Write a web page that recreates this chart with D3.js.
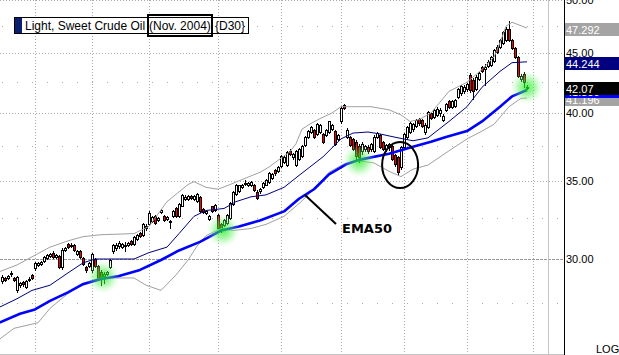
<!DOCTYPE html>
<html><head><meta charset="utf-8">
<script src="https://cdn.jsdelivr.net/npm/d3@7"></script>
<style>html,body{margin:0;padding:0;background:#fff;overflow:hidden}svg{display:block}</style>
</head><body><svg id="c" width="619" height="355"></svg>
<script>
// ---- Daily OHLC bars (index 0 = first visible bar) ----
const open = [28.72,28.90,28.90,29.13,28.90,28.20,28.49,28.67,28.38,28.78,
29.07,29.48,29.65,29.71,29.88,30.06,30.19,30.38,30.13,30.19,
29.54,30.51,30.90,30.77,30.83,30.32,30.45,30.06,29.54,29.59,
29.36,30.00,29.59,29.25,29.01,29.13,29.54,30.45,30.64,30.77,
30.71,30.80,30.83,31.09,30.90,31.22,31.60,31.47,31.86,32.12,
32.31,32.63,32.37,32.88,32.63,32.44,32.24,32.63,33.14,32.63,
33.33,33.78,33.78,33.97,33.78,33.65,33.91,33.08,32.82,32.44,
33.27,33.01,32.69,32.12,32.05,32.18,32.50,33.46,34.10,34.29,
34.55,34.81,34.68,34.68,34.74,34.23,34.29,34.55,34.74,34.94,
35.22,35.74,35.66,36.03,36.32,36.10,37.13,36.69,36.10,36.54,
36.76,37.57,38.16,38.53,38.68,38.38,38.53,38.38,38.31,38.53,
38.75,38.60,38.01,39.34,40.67,38.16,38.16,38.01,37.79,37.50,
37.13,37.28,37.43,37.28,37.13,38.16,38.31,37.79,37.28,37.43,
37.50,36.84,36.69,35.96,37.43,38.16,38.53,38.75,38.97,39.56,
39.48,38.53,38.90,40.00,39.71,39.85,40.00,39.48,40.25,40.92,
40.50,40.58,41.25,41.58,41.75,41.92,43.08,42.67,41.92,42.75,
43.83,43.58,43.92,44.00,44.33,45.57,45.57,45.94,46.23,47.17,
46.23,45.47,44.67,42.75,43.17,42.00];
const high = [29.07,28.96,29.07,29.30,28.96,29.01,28.67,28.72,28.78,28.96,
29.13,29.83,29.83,29.88,30.19,30.32,30.38,30.45,30.32,30.26,
30.64,30.71,30.96,30.96,30.90,30.51,30.51,30.13,29.59,29.83,
30.38,30.06,29.65,29.36,29.25,29.30,30.00,30.90,30.96,31.09,
30.96,31.03,31.03,31.15,31.41,31.54,31.67,32.18,32.12,32.95,
32.63,32.69,32.56,33.08,32.69,32.63,32.37,33.01,33.21,33.53,
34.10,34.04,34.04,34.04,34.04,34.17,33.97,33.14,33.01,32.69,
33.33,33.46,32.76,32.18,32.44,32.76,33.59,34.29,34.81,34.74,
34.81,35.07,34.94,35.00,34.81,34.36,34.49,34.94,35.15,35.59,
35.51,35.81,36.03,36.84,36.76,37.13,37.28,36.98,37.21,37.35,
37.57,38.23,38.68,38.97,38.75,39.19,39.12,38.45,38.75,39.41,
39.12,38.68,38.38,40.58,40.75,38.82,38.23,38.09,37.94,37.65,
37.79,37.57,37.57,37.72,38.31,38.53,38.38,37.87,37.65,37.72,
37.57,36.91,36.76,37.50,38.45,38.97,39.26,39.19,39.56,39.63,
39.56,39.19,40.17,40.08,40.33,40.50,40.42,39.93,40.83,41.00,
41.00,41.08,42.00,42.25,42.25,42.42,43.25,42.83,43.08,43.33,
43.92,44.08,44.42,44.75,45.38,45.75,46.32,46.98,47.36,47.92,
46.32,45.57,44.75,43.17,43.33,42.25];
const low = [28.61,28.72,28.84,29.01,28.72,28.09,28.38,28.43,28.32,28.72,
28.84,29.36,29.59,29.65,29.83,30.00,30.13,30.06,30.06,29.48,
29.42,30.45,30.64,30.71,30.45,30.26,30.06,29.65,29.25,29.54,
29.25,29.54,28.78,28.49,28.61,29.07,29.48,30.38,30.51,30.64,
30.64,30.45,30.77,30.83,30.83,31.15,31.35,31.41,31.79,32.05,
32.24,32.12,32.31,32.82,32.31,32.37,31.86,32.56,32.56,32.56,
33.27,33.72,33.72,33.78,33.72,33.59,32.88,32.82,32.76,32.37,
32.88,32.95,31.86,31.67,31.99,32.12,32.44,33.40,34.04,34.23,
34.49,34.68,34.62,34.62,34.29,33.78,34.17,34.49,34.68,34.87,
35.15,35.37,35.59,35.96,36.25,36.03,36.84,36.54,36.03,36.47,
36.69,37.50,38.09,38.45,38.09,38.31,38.45,37.72,38.23,38.45,
38.68,37.57,37.94,39.19,40.33,38.09,37.50,37.21,36.54,36.32,
36.91,37.13,36.98,37.13,37.06,38.09,37.35,37.21,37.13,37.21,
36.47,36.03,35.37,35.81,37.28,38.01,38.45,38.60,38.90,39.04,
38.90,38.38,38.82,39.56,39.63,39.78,39.78,39.41,40.17,40.42,
40.42,40.50,41.17,41.42,41.58,41.75,41.67,41.08,41.83,42.67,
43.33,42.25,43.83,43.92,44.25,45.00,45.47,45.85,46.13,46.13,
45.38,44.58,42.92,42.58,42.08,41.92];
const close = [28.96,28.78,29.01,29.16,28.78,28.96,28.61,28.55,28.72,28.84,
28.90,29.77,29.77,29.83,30.13,30.26,30.32,30.13,30.26,29.54,
30.51,30.64,30.71,30.83,30.51,30.45,30.13,29.71,29.36,29.77,
30.32,29.59,28.90,28.96,29.13,29.25,29.94,30.83,30.83,30.96,
30.90,30.83,30.96,30.90,31.35,31.47,31.41,32.12,31.99,32.82,
32.56,32.18,32.50,33.01,32.37,32.56,32.31,32.95,32.63,33.46,
34.04,33.91,33.97,33.85,33.97,34.10,32.95,32.88,32.95,32.63,
32.95,33.40,31.92,31.86,32.37,32.69,33.53,34.23,34.74,34.68,
34.74,34.87,34.87,34.94,34.36,33.85,34.42,34.87,35.07,35.51,
35.44,35.51,35.96,36.76,36.69,37.06,36.91,36.91,37.13,37.28,
37.50,38.16,38.60,38.90,38.16,39.12,39.04,37.79,38.68,39.34,
39.04,37.65,38.31,40.42,40.42,38.68,37.57,37.28,36.76,36.69,
37.65,37.50,37.13,37.65,38.16,38.45,37.43,37.28,37.57,37.65,
36.54,36.18,35.59,37.43,38.38,38.90,39.19,39.12,39.48,39.19,
38.97,39.04,40.08,39.63,40.25,40.33,40.25,39.78,40.75,40.50,
40.92,41.00,41.92,42.17,42.08,42.33,41.83,41.75,42.92,43.25,
43.42,43.83,44.25,44.67,45.28,45.09,46.23,46.89,47.17,46.23,
45.47,44.67,43.00,43.00,42.50,42.07];

// ---- Studies, read at bar positions ----
const emaIdx = [-1,6,11,16,22,27,33,39,46,53,59,66,73,79,86,94,99,104,109,115,119,129,137,143,148,155,160,166,170,175];
const emaVal = [26.46,26.93,27.16,27.62,28.09,28.55,28.84,29.01,29.36,29.94,30.51,31.03,31.73,31.99,32.37,32.95,33.78,34.42,35.44,36.18,36.47,36.91,37.43,37.79,38.16,38.60,39.34,40.50,41.33,41.85];
const upperIdx = [-1,5,10,16,22,27,33,44,49,55,62,64,68,72,76,79,86,89,94,96,98,100,103,106,110,113,116,123,129,133,136,139,143,149,155,160,164,166,168,170,175];
const upperVal = [29.25,29.65,30.13,30.71,31.09,31.35,31.47,31.54,31.99,33.59,34.74,34.94,34.55,34.42,34.74,35.00,35.59,35.96,36.76,37.06,37.65,38.75,39.19,39.56,40.00,40.50,40.50,40.50,40.25,39.85,39.34,39.48,40.00,41.75,42.50,43.58,44.67,45.94,47.45,47.83,47.292];
const lowerIdx = [-1,4,12,16,22,27,33,44,48,53,58,62,65,68,73,77,83,88,94,99,104,109,114,119,124,129,133,137,142,149,155,160,164,169,173,175];
const lowerVal = [25.59,26.17,26.46,27.22,28.03,28.61,28.90,28.90,28.49,28.20,29.07,29.94,30.77,31.41,31.86,31.73,31.86,32.12,32.63,33.46,34.42,35.59,36.18,36.40,36.25,35.66,35.29,35.81,36.10,37.13,38.01,38.60,39.12,40.50,41.17,41.196];
const smaIdx = [-1,5,10,16,22,27,31,44,49,55,59,64,68,74,78,83,88,94,99,107,113,117,122,126,132,137,142,149,155,160,166,170,175];
const smaVal = [27.27,27.74,28.20,28.49,29.19,29.77,30.00,30.00,30.38,30.71,31.54,32.63,33.01,33.14,33.59,33.91,34.04,34.55,35.37,36.69,38.01,38.45,38.53,38.38,38.09,37.87,38.09,39.34,40.50,42.08,43.42,44.17,44.244];

// ---- Axis / grid ----
const majorTicks = [30, 35, 40, 45, 50];
const minorTicks = [27.5, 32.5, 37.5, 42.5, 47.5];
const monthStarts = [11, 30, 49, 72, 93, 113, 134, 155, 177];
const glowIdx = [33.7, 73.7, 119, 175];
const glowVal = [28.96, 31.73, 36.40, 42.08];
const circleIdx = 132.7, circleVal = 36.10;
const noteIdx = 101;

const svg = d3.select('#c');
const x = d3.scaleLinear().domain([0, 175]).range([2, 527]);
const y = d3.scaleLog().domain([30, 40]).range([259, 113]);
const W = 564, H = 355;
const px = v => Math.round(v) + 0.5;

const defs = svg.append('defs');
const rg = defs.append('radialGradient').attr('id', 'glow');
rg.append('stop').attr('offset', '0%').attr('stop-color', '#11ee11').attr('stop-opacity', 0.75);
rg.append('stop').attr('offset', '50%').attr('stop-color', '#55f055').attr('stop-opacity', 0.45);
rg.append('stop').attr('offset', '100%').attr('stop-color', '#bbffbb').attr('stop-opacity', 0);

const grid = svg.append('g');
grid.selectAll('.mj').data(majorTicks).join('line')
  .attr('x1', 0).attr('x2', W).attr('y1', d => px(y(d))).attr('y2', d => px(y(d)))
  .attr('stroke', d => d === 30 ? '#999' : '#aaa')
  .attr('stroke-dasharray', d => d === 30 ? '3,1' : '1,2');
grid.selectAll('.mn').data(minorTicks).join('line')
  .attr('x1', 2).attr('x2', W).attr('y1', d => px(y(d))).attr('y2', d => px(y(d)))
  .attr('stroke', '#aaa').attr('stroke-dasharray', '1,14');
grid.selectAll('.vm').data(monthStarts).join('line')
  .attr('x1', d => px(x(d))).attr('x2', d => px(x(d))).attr('y1', 0).attr('y2', 354)
  .attr('stroke', '#aaa').attr('stroke-dasharray', '1,2');
grid.append('line').attr('x1', 548.5).attr('x2', 548.5).attr('y1', 0).attr('y2', H).attr('stroke', '#c4c4c4');
grid.append('line').attr('x1', 0).attr('x2', W).attr('y1', 354.5).attr('y2', 354.5).attr('stroke', '#c4c4c4');

// ---- Candles ----
const idx = d3.range(close.length);
const cg = svg.append('g').attr('shape-rendering', 'crispEdges');
cg.selectAll('.wick').data(idx).join('line')
  .attr('x1', i => Math.round(x(i)) + 0.5).attr('x2', i => Math.round(x(i)) + 0.5)
  .attr('y1', i => Math.round(y(high[i]))).attr('y2', i => Math.round(y(low[i])) + 1)
  .attr('stroke', '#000');
cg.selectAll('.body').data(idx).join('rect')
  .attr('x', i => Math.round(x(i)) - 1).attr('width', 3)
  .attr('y', i => Math.round(y(Math.max(open[i], close[i]))))
  .attr('height', i => Math.max(1, Math.round(y(Math.min(open[i], close[i]))) - Math.round(y(Math.max(open[i], close[i]))) + 1))
  .attr('fill', '#000');
cg.selectAll('.inner').data(idx.filter(i => Math.round(y(Math.min(open[i], close[i]))) - Math.round(y(Math.max(open[i], close[i]))) >= 2)).join('rect')
  .attr('x', i => Math.round(x(i))).attr('width', 1)
  .attr('y', i => Math.round(y(Math.max(open[i], close[i]))) + 1)
  .attr('height', i => Math.round(y(Math.min(open[i], close[i]))) - Math.round(y(Math.max(open[i], close[i]))) - 1)
  .attr('fill', i => close[i] >= open[i] ? '#fff' : '#ff0000');

// ---- Study lines ----
const mkLine = (I, V) => d3.line().x((d, k) => x(I[k])).y((d, k) => y(V[k]))(V);
svg.append('path').attr('d', mkLine(upperIdx, upperVal)).attr('fill', 'none').attr('stroke', '#a0a0a0');
svg.append('path').attr('d', mkLine(lowerIdx, lowerVal)).attr('fill', 'none').attr('stroke', '#a0a0a0');
svg.append('path').attr('d', mkLine(smaIdx, smaVal)).attr('fill', 'none').attr('stroke', '#000080');
svg.append('path').attr('d', mkLine(emaIdx, emaVal)).attr('fill', 'none').attr('stroke', '#0000ff').attr('stroke-width', 2.6).attr('stroke-linejoin', 'round');

// ---- Glows ----
svg.selectAll('.glow').data(glowIdx).join('circle')
  .attr('cx', (d) => x(d)).attr('cy', (d, k) => y(glowVal[k])).attr('r', 17).attr('fill', 'url(#glow)');

// ---- Annotations ----
const cx0 = x(circleIdx), cy0 = y(circleVal);
svg.append('ellipse').attr('cx', cx0).attr('cy', cy0).attr('rx', 18).attr('ry', 23)
  .attr('fill', 'none').attr('stroke', '#000').attr('stroke-width', 2);
const emaAt = k => { const j = d3.bisectLeft(emaIdx, k); const t = (k - emaIdx[j-1]) / (emaIdx[j] - emaIdx[j-1]); return Math.exp(Math.log(emaVal[j-1]) * (1 - t) + Math.log(emaVal[j]) * t); };
const nx = x(noteIdx), ny = y(emaAt(noteIdx));
svg.append('line').attr('x1', nx).attr('y1', ny).attr('x2', nx + 31).attr('y2', ny + 29)
  .attr('stroke', '#000').attr('stroke-width', 2);
svg.append('text').attr('x', nx + 37).attr('y', ny + 38).text('EMA50')
  .attr('font-family', 'DejaVu Sans').attr('font-weight', 'bold').attr('font-size', 13).attr('fill', '#000');

// ---- Right axis ----
svg.append('line').attr('x1', 564.5).attr('x2', 564.5).attr('y1', 0).attr('y2', H).attr('stroke', '#000');
const ax = svg.append('g').attr('transform', 'translate(564,0)')
  .call(d3.axisRight(y).tickValues(majorTicks).tickFormat(d3.format('.2f')).tickSize(0).tickPadding(2));
ax.select('.domain').remove();
ax.selectAll('text').attr('font-family', 'Liberation Sans, Arial, sans-serif').attr('font-size', 11).attr('fill', '#000');

const last = close.length - 1;
const boxes = [
  {v: lowerVal[lowerVal.length - 1], fill: '#a4a4a4', t: d3.format('.3f')(lowerVal[lowerVal.length - 1])},
  {v: emaVal[emaVal.length - 1], fill: '#0000ff', t: d3.format('.3f')(emaVal[emaVal.length - 1])},
  {v: close[last], fill: '#000', t: d3.format('.2f')(close[last])},
  {v: smaVal[smaVal.length - 1], fill: '#000080', t: d3.format('.3f')(smaVal[smaVal.length - 1])},
  {v: upperVal[upperVal.length - 1], fill: '#a4a4a4', t: d3.format('.3f')(upperVal[upperVal.length - 1])}
];
const bg = svg.append('g');
boxes.forEach(b => {
  const top = Math.round(y(b.v)) - 5;
  bg.append('rect').attr('x', 565).attr('y', top).attr('width', 54).attr('height', 13).attr('fill', b.fill);
  bg.append('text').attr('x', 566).attr('y', top + 11).text(b.t)
    .attr('font-family', 'Liberation Sans, Arial, sans-serif').attr('font-size', 11).attr('fill', '#fff');
});
svg.append('text').attr('x', 596).attr('y', 353).text('LOG')
  .attr('font-family', 'Liberation Sans, Arial, sans-serif').attr('font-size', 11).attr('fill', '#000');

// ---- Legend ----
const lg = svg.append('g').attr('font-family', 'Liberation Sans, Arial, sans-serif').attr('font-size', 12);
lg.append('rect').attr('x', 14.5).attr('y', 17.5).attr('width', 234).attr('height', 16).attr('fill', '#fff').attr('stroke', '#000');
lg.append('rect').attr('x', 15).attr('y', 18).attr('width', 7).attr('height', 15).attr('fill', '#0a1f6e');
lg.append('text').attr('x', 25).attr('y', 30).text('Light, Sweet Crude Oil');
lg.append('rect').attr('x', 148).attr('y', 15).attr('width', 64).attr('height', 21).attr('fill', 'none').attr('stroke', '#000').attr('stroke-width', 2);
lg.append('text').attr('x', 149).attr('y', 30).text('(Nov. 2004)');
lg.append('text').attr('x', 215).attr('y', 30).text('{D30}');
</script>
</body></html>
